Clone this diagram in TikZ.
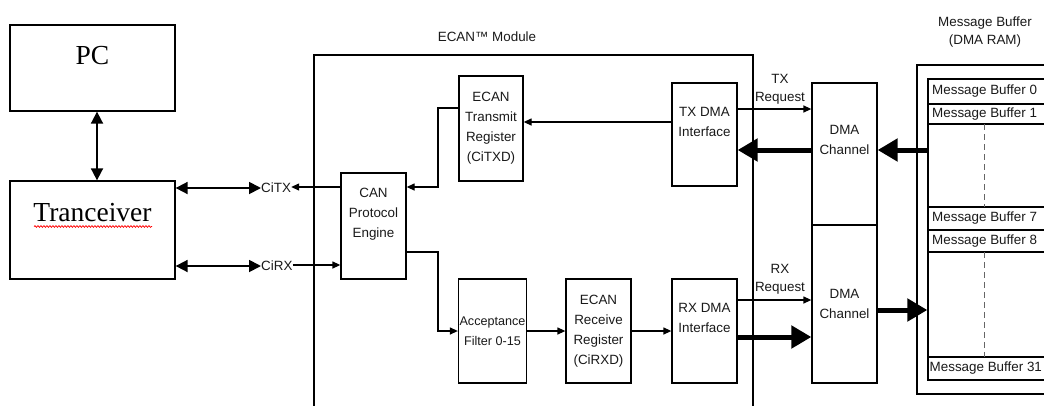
\documentclass[tikz,border=0pt]{standalone}
\usepackage{fontspec}
\setmainfont{Liberation Serif}
\setsansfont{Liberation Sans}
\usetikzlibrary{arrows.meta,decorations.pathmorphing}
\definecolor{txt}{HTML}{1A1A1A}
\begin{document}
\begin{tikzpicture}[x=1pt,y=-1pt,
  box/.style={draw, line width=1.3pt, inner sep=0pt, align=center,
    font=\sffamily\fontsize{13.4}{20}\selectfont, text=txt},
  serif/.style={font=\rmfamily\fontsize{27.5}{30}\selectfont, text=black},
  lbl/.style={inner sep=0pt, align=center, font=\sffamily\fontsize{13.4}{18}\selectfont, text=txt},
  mbtext/.style={inner sep=0pt, anchor=west, font=\sffamily\fontsize{13.4}{15}\selectfont, text=txt},
  thin/.style={line width=1.3pt},
  arr/.style={line width=1.3pt, -{Triangle[length=8pt,width=7pt]}},
  darr/.style={line width=1.8pt, {Triangle[length=12pt,width=12pt]}-{Triangle[length=12pt,width=12pt]}},
  thick arr/.style={line width=5pt, -{Triangle[length=20pt,width=22pt]}}]
\useasboundingbox (0,0) rectangle (1044,405);
\clip (0,0) rectangle (1044,405);
\fill[white] (0,0) rectangle (1044,405);

% left boxes
\node[box, minimum width=165pt, minimum height=86pt,
  label={[serif, anchor=base, yshift=-40pt]north:PC}] (pc) at (92.5,68) {};
\node[box, minimum width=165pt, minimum height=98pt,
  label={[serif, anchor=base, yshift=-41pt]north:Tranceiver}] (trx) at (92.5,230) {};
\draw[red, line width=0.7pt, decorate, decoration={snake, amplitude=0.9pt, segment length=3pt}] (34,226.5) -- (152,226.5);
\draw[darr] ([xshift=4.5pt]pc.south) -- ([xshift=4.5pt]trx.north);

% pins
\node[lbl, anchor=west] (citx) at (261,188) {CiTX};
\node[lbl, anchor=west] (cirx) at (261,266) {CiRX};
\draw[darr] (trx.east |- citx.west) -- (citx.west);
\draw[darr] (trx.east |- cirx.west) -- (cirx.west);

% ECAN module frame
\draw[thin] (314,420) -- (314,55) -- (753,55) -- (753,420);
\node[lbl] (modlbl) at (487,37) {ECAN™ Module};

% module blocks
\node[box, minimum width=64pt, minimum height=105pt] (txreg) at (491,128.5) {ECAN\\Transmit\\Register\\(CiTXD)};
\node[box, minimum width=65pt, minimum height=106pt] (cpe) at (373.5,226) {CAN\\Protocol\\Engine\\[6pt]};
\node[box, minimum width=68pt, minimum height=104pt, font=\sffamily\fontsize{12.6}{20}\selectfont] (accf) at (492.5,331) {Acceptance\\Filter 0-15};
\node[box, minimum width=65pt, minimum height=104pt] (rxreg) at (598.5,331) {ECAN\\Receive\\Register\\(CiRXD)};
\node[box, minimum width=65pt, minimum height=103pt] (txdma) at (704.5,134.5) {TX DMA\\Interface\\[6pt]};
\node[box, minimum width=65pt, minimum height=104pt] (rxdma) at (704.5,331) {RX DMA\\Interface\\[6pt]};
\node[box, minimum width=65pt, minimum height=142pt] (dma1) at (844.5,154) {DMA\\Channel\\[8pt]};
\node[box, minimum width=65pt, minimum height=158pt] (dma2) at (844.5,304) {DMA\\Channel};

% message buffer
\node[lbl] (mblbl) at (985,32) {Message Buffer\\(DMA RAM)};
\draw[thin] (1060,65) -- (917,65) -- (917,394) -- (1060,394);
\node[draw, line width=1.3pt, inner sep=0pt, minimum width=132pt, minimum height=301pt] (mbin) at (994,229.5) {};
\foreach \yy in {104,124,207,230,252,357} \draw[thin] (928,\yy) -- (1060,\yy);
\node[mbtext] (mb0) at (932,91.5) {Message Buffer 0};
\node[mbtext] (mb1) at (932,114) {Message Buffer 1};
\node[mbtext] (mb7) at (932,218.5) {Message Buffer 7};
\node[mbtext] (mb8) at (932,241) {Message Buffer 8};
\node[mbtext] (mb31) at (929.5,368.5) {Message Buffer 31};
\draw[line width=1pt, dash pattern=on 6pt off 4pt, gray!80!black] (984,124) -- (984,207);
\draw[line width=1pt, dash pattern=on 6pt off 4pt, gray!80!black] (984,252) -- (984,357);

% connectors
\draw[arr] (txdma.west |- 0,122) -- (txreg.east |- 0,122);
\draw[arr] (txreg.west |- 0,108) -- (438,108) -- (438,187) -- (cpe.east |- 0,187);
\draw[arr] (cpe.west |- 0,187) -- (citx.east |- 0,187);
\draw[arr] (cirx.east |- 0,265) -- (cpe.west |- 0,265);
\draw[arr] (cpe.east |- 0,252) -- (438,252) -- (438,331) -- (accf.west |- 0,331);
\draw[arr] (accf.east) -- (rxreg.west);
\draw[arr] (rxreg.east) -- (rxdma.west);

\draw[arr] (txdma.east |- 0,109) -- (dma1.west |- 0,109);
\node[lbl] (txreq) at (780,89) {TX\\Request};
\draw[thick arr] (dma1.west |- 0,150) -- (txdma.east |- 0,150);
\draw[thick arr] (mbin.west |- 0,150) -- (dma1.east |- 0,150);

\draw[arr] (rxdma.east |- 0,300) -- (dma2.west |- 0,300);
\node[lbl] (rxreq) at (780,279) {RX\\Request};
\draw[thick arr] (rxdma.east |- 0,337) -- (dma2.west |- 0,337);
\draw[thick arr] (dma2.east |- 0,310) -- (mbin.west |- 0,310);
\end{tikzpicture}
\end{document}
